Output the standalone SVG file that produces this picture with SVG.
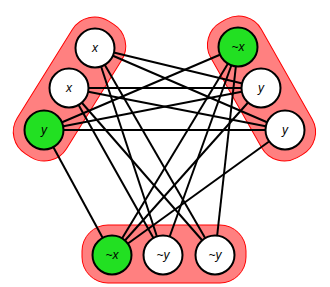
<svg xmlns="http://www.w3.org/2000/svg" width="330" height="287" viewBox="0 0 330 287">
<style>
.grp{fill:#ff8080;stroke:#ff0000;stroke-width:1}
.e{stroke:#000;stroke-width:2;fill:none}
.n{stroke:#000;stroke-width:2;fill:#fff}
.g{fill:#22e022}
.t{font-family:"Liberation Sans",Arial,sans-serif;font-style:italic;font-size:12px;text-anchor:middle;fill:#000}
</style>
<rect width="330" height="287" fill="#fff"/>
<g id="groups">
<rect class="grp" x="-78.3" y="-29" width="156.6" height="58" rx="26" transform="translate(69.5,89) rotate(-58.1)"/>
<rect class="grp" x="-77.7" y="-29" width="155.4" height="58" rx="26" transform="translate(261.5,88.5) rotate(60.5)"/>
<rect class="grp" x="82" y="225" width="164" height="58" rx="26"/>
</g>
<g id="connectors">
<line class="e" x1="95" y1="48" x2="261" y2="88"/>
<line class="e" x1="95" y1="48" x2="285" y2="130"/>
<line class="e" x1="69" y1="88" x2="261" y2="88"/>
<line class="e" x1="69" y1="88" x2="285" y2="130"/>
<line class="e" x1="44" y1="130" x2="238" y2="47"/>
<line class="e" x1="44" y1="130" x2="261" y2="88"/>
<line class="e" x1="44" y1="130" x2="285" y2="130"/>
<line class="e" x1="95" y1="48" x2="163" y2="255"/>
<line class="e" x1="95" y1="48" x2="215" y2="255"/>
<line class="e" x1="69" y1="88" x2="163" y2="255"/>
<line class="e" x1="69" y1="88" x2="215" y2="255"/>
<line class="e" x1="44" y1="130" x2="112" y2="255"/>
<line class="e" x1="238" y1="47" x2="112" y2="255"/>
<line class="e" x1="238" y1="47" x2="163" y2="255"/>
<line class="e" x1="238" y1="47" x2="215" y2="255"/>
<line class="e" x1="261" y1="88" x2="112" y2="255"/>
<line class="e" x1="285" y1="130" x2="112" y2="255"/>
</g>
<g id="L1"><circle class="n" cx="95" cy="48" r="19.5"/><text class="t" x="95" y="52">x</text></g>
<g id="L2"><circle class="n" cx="69" cy="88" r="19.5"/><text class="t" x="69" y="92">x</text></g>
<g id="L3"><circle class="n g" cx="44" cy="130" r="19.5"/><text class="t" x="44" y="134">y</text></g>
<g id="R1"><circle class="n g" cx="238" cy="47" r="19.5"/><text class="t" x="238" y="51">~x</text></g>
<g id="R2"><circle class="n" cx="261" cy="88" r="19.5"/><text class="t" x="261" y="92">y</text></g>
<g id="R3"><circle class="n" cx="285" cy="130" r="19.5"/><text class="t" x="285" y="134">y</text></g>
<g id="B1"><circle class="n g" cx="112" cy="255" r="19.5"/><text class="t" x="112" y="259">~x</text></g>
<g id="B2"><circle class="n" cx="163" cy="255" r="19.5"/><text class="t" x="163" y="259">~y</text></g>
<g id="B3"><circle class="n" cx="215" cy="255" r="19.5"/><text class="t" x="215" y="259">~y</text></g>
</svg>
